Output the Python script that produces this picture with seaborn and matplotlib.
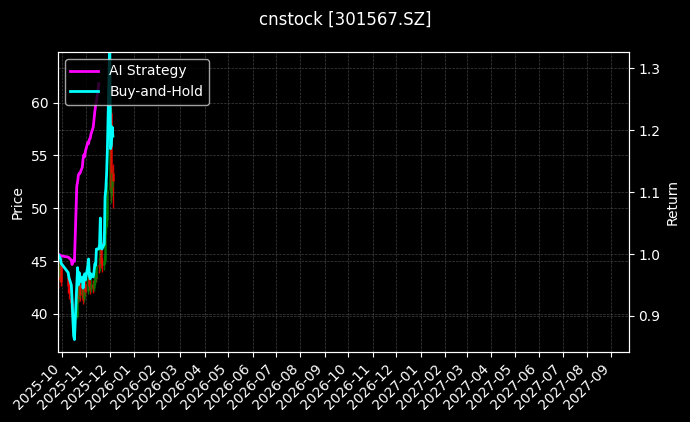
import matplotlib
matplotlib.use("Agg")
import matplotlib.pyplot as plt
import matplotlib.dates as mdates
import numpy as np
import pandas as pd
import seaborn as sns

plt.style.use("dark_background")

# trading days (Oct 1-8 holiday skipped)
dates = [
    "2025-09-26", "2025-09-29", "2025-09-30",
    "2025-10-09", "2025-10-10",
    "2025-10-13", "2025-10-14", "2025-10-15", "2025-10-16", "2025-10-17",
    "2025-10-20", "2025-10-21", "2025-10-22", "2025-10-23", "2025-10-24",
    "2025-10-27", "2025-10-28", "2025-10-29", "2025-10-30", "2025-10-31",
    "2025-11-03", "2025-11-04", "2025-11-05", "2025-11-06", "2025-11-07",
    "2025-11-10", "2025-11-11", "2025-11-12", "2025-11-13", "2025-11-14",
    "2025-11-17", "2025-11-18", "2025-11-19", "2025-11-20", "2025-11-21",
    "2025-11-24", "2025-11-25", "2025-11-26", "2025-11-27", "2025-11-28",
    "2025-12-01", "2025-12-02", "2025-12-03", "2025-12-04", "2025-12-05",
]

open_px = [45.0, 43.5, 44.6, 43.5, 42.5, 41.5, 41.0, 39.8, 38.5, 38.0,
           39.8, 42.6, 43.5, 41.6, 42.8, 41.9, 42.4, 41.4, 42.3, 42.8,
           42.2, 43.4, 43.9, 42.6, 42.4, 42.8, 42.5, 43.0, 43.5, 43.4,
           44.6, 44.6, 44.9, 46.8, 44.7, 44.6, 45.0, 48.3, 48.9, 50.0,
           51.7, 59.0, 51.8, 52.0, 53.3]
close_px = [43.2, 44.8, 43.0, 42.6, 42.0, 41.0, 39.8, 38.6, 37.9, 39.5,
            42.5, 43.8, 41.5, 42.9, 41.8, 42.4, 41.3, 42.4, 42.8, 42.1,
            43.4, 43.9, 42.6, 42.4, 42.8, 42.5, 43.0, 43.5, 43.4, 44.6,
            44.5, 44.9, 46.8, 44.7, 44.6, 45.0, 48.3, 48.9, 50.0, 51.7,
            59.5, 51.8, 52.0, 53.3, 52.6]
high_px = [45.4, 45.2, 44.9, 44.0, 43.0, 42.2, 41.5, 40.2, 39.0, 40.0,
           43.5, 44.3, 43.8, 43.4, 43.2, 43.0, 42.7, 42.9, 43.3, 43.1,
           44.0, 44.5, 44.0, 43.0, 43.3, 43.2, 43.5, 44.0, 44.0, 45.2,
           45.3, 45.5, 47.3, 47.0, 45.3, 45.6, 48.6, 49.8, 50.6, 52.5,
           60.5, 59.5, 53.5, 54.0, 54.2]
low_px = [42.5, 43.0, 42.6, 42.0, 41.4, 40.5, 39.2, 38.0, 37.5, 37.6,
          39.6, 42.0, 41.0, 41.2, 41.2, 41.5, 40.9, 41.1, 41.9, 41.7,
          41.9, 43.0, 42.3, 41.9, 42.1, 42.0, 42.2, 42.7, 43.0, 43.2,
          43.9, 44.1, 44.7, 44.3, 44.0, 44.2, 44.8, 47.6, 48.2, 49.5,
          51.5, 50.8, 50.5, 51.2, 50.0]

nan = np.nan
ai_strategy = [1.000, 0.998, 0.997, 0.995, 0.994, 0.990, 0.983, 0.988, 0.990, 0.988,
               1.110, 1.116, 1.127, 1.130, 1.130, 1.140, 1.153, 1.160, 1.157, 1.166,
               1.180, 1.178, 1.185, 1.186, 1.193, 1.205, 1.218, 1.230, 1.240, 1.246,
               1.275, nan, nan, nan, nan, nan, nan, nan, nan, nan,
               nan, nan, nan, nan, nan]
buy_hold = [1.000, 0.993, 0.985, 0.970, 0.962, 0.950, 0.925, 0.895, 0.868, 0.862,
            0.950, 0.978, 0.950, 0.970, 0.955, 0.963, 0.945, 0.960, 0.968, 0.958,
            0.980, 0.992, 0.965, 0.960, 0.968, 0.963, 0.972, 0.984, 0.982, 1.008,
            1.008, 1.015, 1.058, 1.010, 1.008, 1.016, 1.092, 1.105, 1.130, 1.170,
            1.345, 1.170, 1.175, 1.205, 1.190]

df = pd.DataFrame({
    "date": pd.to_datetime(dates),
    "open": open_px, "close": close_px, "high": high_px, "low": low_px,
    "AI Strategy": ai_strategy, "Buy-and-Hold": buy_hold,
})

fig, ax = plt.subplots(figsize=(6.9, 4.22), dpi=100)
fig.subplots_adjust(left=0.084, right=0.911, top=0.877, bottom=0.166)

# price bars
up = df["close"] >= df["open"]
cols = ["green" if u else "red" for u in up]
ax.vlines(df["date"], df["low"], df["high"], colors=cols, linewidth=1.0, alpha=0.85)
ax.vlines(df["date"], df["open"], df["close"], colors=cols, linewidth=1.8, alpha=0.85)
ax.set_ylabel("Price")
ax.set_ylim(36.4, 64.8)
ax.grid(True, linestyle="--", linewidth=0.5, color="gray", alpha=0.5)

ax2 = ax.twinx()
sns.lineplot(data=df, x="date", y="AI Strategy", ax=ax2, color="magenta", linewidth=2, label="AI Strategy")
sns.lineplot(data=df, x="date", y="Buy-and-Hold", ax=ax2, color="cyan", linewidth=2, label="Buy-and-Hold")
ax2.set_ylabel("Return")
ax2.set_ylim(0.842, 1.326)
ax2.grid(True, axis="y", linestyle="--", linewidth=0.5, color="gray", alpha=0.5)
leg = ax2.legend(loc="upper left", facecolor="black", edgecolor="0.8", framealpha=0.8)
leg.set_zorder(10)

ax.set_xlim(pd.Timestamp("2025-09-26"), pd.Timestamp("2027-09-23"))
ax.xaxis.set_major_locator(mdates.MonthLocator())
ax.xaxis.set_major_formatter(mdates.DateFormatter("%Y-%m"))
ax2.set_xlabel("")
ax.set_xlabel("")
plt.setp(ax.get_xticklabels(), rotation=45, ha="right")

fig.suptitle("cnstock [301567.SZ]", y=0.975)

fig.savefig("out.png", dpi=100)
